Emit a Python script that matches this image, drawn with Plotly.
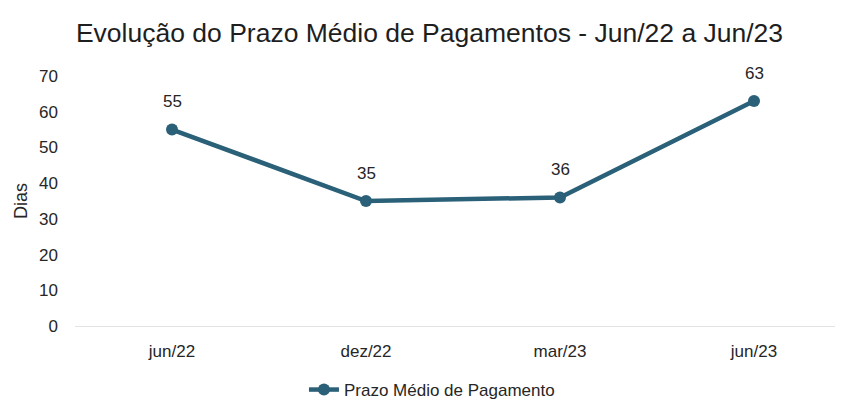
import plotly.graph_objects as go

categories = ["jun/22", "dez/22", "mar/23", "jun/23"]
values = [55, 35, 36, 63]
series_name = "Prazo Médio de Pagamento"
title = "Evolução do Prazo Médio de Pagamentos - Jun/22 a Jun/23"
y_title = "Dias"
y_ticks = [0, 10, 20, 30, 40, 50, 60, 70]

FONT = "Liberation Sans Narrow, Arial Narrow, Liberation Sans, Arial, sans-serif"
COLOR = "#2a6078"
TXT = "#262626"

fig = go.Figure()
fig.add_trace(go.Scatter(
    x=categories, y=values, name=series_name,
    mode="lines+markers",
    line=dict(color=COLOR, width=4.5),
    marker=dict(color=COLOR, size=12),
    cliponaxis=False,
))
for c, v in zip(categories, values):
    fig.add_annotation(x=c, y=v, text=str(v), showarrow=False, yshift=28,
                       font=dict(size=17, color=TXT, family=FONT))

fig.update_layout(
    width=843, height=405,
    paper_bgcolor="white", plot_bgcolor="white",
    font=dict(family=FONT, color=TXT),
    title=dict(text=title, x=0.5, xanchor="center", y=0.94, yanchor="middle",
               font=dict(size=26.5, color="#1e1e1e", family=FONT)),
    margin=dict(l=67, r=0, t=68, b=87),
    showlegend=True,
    legend=dict(orientation="h", x=0.46, xanchor="center", y=-0.256, yanchor="middle",
                font=dict(size=17, color=TXT, family=FONT)),
    xaxis=dict(type="category", range=[-0.5, 3.5], showgrid=False,
               showline=True, linecolor="#e3e3e3", linewidth=1,
               ticks="", ticklabelstandoff=10,
               tickfont=dict(size=17, color=TXT), zeroline=False),
    yaxis=dict(range=[0, 70], tickvals=y_ticks, showgrid=False, zeroline=False,
               showline=False, ticks="", ticklabelstandoff=16,
               tickfont=dict(size=17, color=TXT),
               title=dict(text=y_title, font=dict(size=18, color=TXT), standoff=6)),
)

fig.write_html("out.html")
